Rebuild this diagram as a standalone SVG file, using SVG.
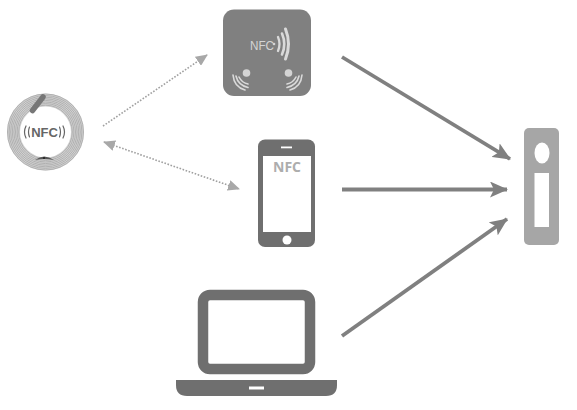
<svg xmlns="http://www.w3.org/2000/svg" width="577" height="410" viewBox="0 0 577 410">
<style>
.dark{fill:#6f6f6f}
.solid{stroke:#808080;stroke-width:3.800;fill:none;marker-end:url(#solidHead)}
.dot{stroke:#a0a0a0;stroke-width:1.600;stroke-dasharray:1.600 1.600;fill:none}
.wave{fill:none;stroke:#dadada;stroke-linecap:round}
.ring{fill:none;stroke:#a8a8a8;stroke-width:.8}
.tagwave{fill:none;stroke:#666;stroke-width:1.200;stroke-linecap:round}
</style>
<defs>
<marker id="solidHead" markerUnits="userSpaceOnUse" markerWidth="18" markerHeight="16" refX="17" refY="8" orient="auto"><path d="M0 0L18 8L0 16L4 8Z" fill="#808080"/></marker>
<marker id="dotHead" markerUnits="userSpaceOnUse" markerWidth="12" markerHeight="11" refX="11" refY="5.500" orient="auto"><path d="M0 0L12 5.500L0 11Z" fill="#a8a8a8"/></marker>
<marker id="dotStart" markerUnits="userSpaceOnUse" markerWidth="12" markerHeight="11" refX="1" refY="5.500" orient="auto"><path d="M12 0L0 5.500L12 11Z" fill="#a8a8a8"/></marker>
</defs>
<g id="connectors">
<path class="dot" d="M103 126L207 55" marker-end="url(#dotHead)"/>
<path class="dot" d="M104 142L239 189" marker-start="url(#dotStart)" marker-end="url(#dotHead)"/>
<path class="solid" d="M342 57L510 159"/>
<path class="solid" d="M342 189.500L507 189.500"/>
<path class="solid" d="M342 336L507 219"/>
</g>
<g id="nfc-tag">
<circle cx="45.500" cy="132" r="32" fill="none" stroke="#d2d2d2" stroke-width="13"/>
<circle class="ring" cx="45.500" cy="132" r="38"/><circle class="ring" cx="45.500" cy="132" r="36.400"/><circle class="ring" cx="45.500" cy="132" r="34.800"/><circle class="ring" cx="45.500" cy="132" r="33.200"/><circle class="ring" cx="45.500" cy="132" r="31.600"/><circle class="ring" cx="45.500" cy="132" r="30"/><circle class="ring" cx="45.500" cy="132" r="28.400"/><circle class="ring" cx="45.500" cy="132" r="26.800"/>
<path d="M32.500 110.500L43 97" stroke="#777" stroke-width="5.500" stroke-linecap="round" fill="none"/>
<path d="M35 160Q44 153 54 160Q44 158 35 160Z" fill="#555"/>
<circle cx="44" cy="158" r="1" fill="#222"/>
<text x="44.500" y="137" text-anchor="middle" font-family="'Liberation Sans',Arial,sans-serif" font-size="13" font-weight="bold" fill="#666">NFC</text>
<path class="tagwave" d="M26 126Q23 132 26 138M29.500 127Q27.500 132 29.500 137M59.500 127Q61.500 132 59.500 137M63 126Q66 132 63 138"/>
</g>
<g id="nfc-reader">
<rect x="223" y="9.500" width="88" height="86.500" rx="11" fill="#808080"/>
<text x="250" y="49.500" font-family="'Liberation Sans',Arial,sans-serif" font-size="13" textLength="24" lengthAdjust="spacingAndGlyphs" fill="#d4d4d4">NFC</text>
<circle cx="274" cy="44" r="1.300" fill="#d4d4d4"/>
<path class="wave" stroke-width="2.300" d="M278 37Q281 44 278 51"/>
<path class="wave" stroke-width="2.600" d="M282 33.500Q286.500 44 282 54.500"/>
<path class="wave" stroke-width="3" d="M285.500 29Q291.500 44 285.500 59"/>
<circle cx="246.500" cy="73" r="3.800" fill="#d4d4d4"/>
<circle cx="288.500" cy="73" r="3.800" fill="#d4d4d4"/>
<path class="wave" stroke-width="1.600" d="M239 77Q242 83 248 84M236 76Q238 85 248 87.500M233 75Q234 87 245 90"/>
<path class="wave" stroke-width="1.600" d="M296 77Q293 83 287 84M299 76Q297 85 287 87.500M302 75Q301 87 290 90"/>
</g>
<g id="phone">
<rect x="258" y="139.500" width="57" height="107.500" rx="7" class="dark"/>
<rect x="263" y="156" width="48" height="76" fill="#fff"/>
<rect x="281" y="146.500" width="11" height="1.800" fill="#fff"/>
<circle cx="287" cy="240" r="4.500" fill="#fff"/>
<text x="287" y="172" text-anchor="middle" font-family="'Open Sans','Liberation Sans',sans-serif" font-size="14" font-weight="bold" fill="#adadad">NFC</text>
</g>
<g id="laptop">
<rect x="203" y="295" width="107" height="74" rx="7" fill="#fff" stroke="#6f6f6f" stroke-width="10.500"/>
<path d="M176 380H337V385Q337 396 326 396H187Q176 396 176 385Z" class="dark"/>
<rect x="249" y="386.500" width="15" height="3" fill="#fff"/>
</g>
<g id="lock">
<rect x="524" y="128" width="35" height="117" rx="5" fill="#a6a6a6"/>
<ellipse cx="542" cy="153" rx="7.500" ry="10.500" fill="#fff"/>
<rect x="534.500" y="173" width="14.500" height="54" fill="#fff"/>
</g>
</svg>
